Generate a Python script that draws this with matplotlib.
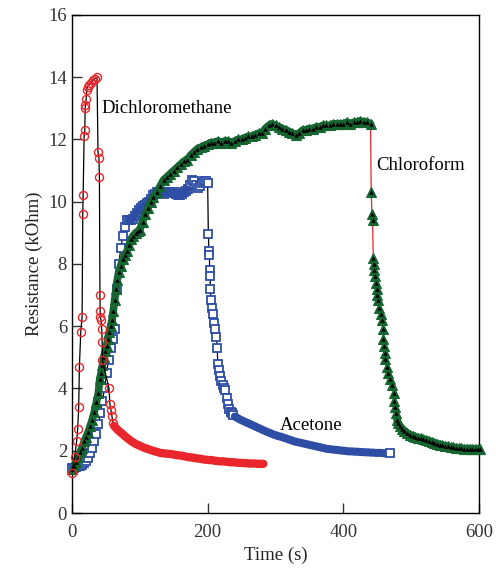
import matplotlib
matplotlib.use("Agg")
import matplotlib.pyplot as plt

# ---- data (time in s, resistance in kOhm) ----
dcm_t = [0, 4, 7, 8.5, 10, 11, 13, 15, 16, 16.5, 18, 19, 19.5, 20, 21, 22, 23, 25, 28, 31, 34, 37,
         38.4, 39.8, 40.5, 41.3, 41.6, 42, 42.8, 44, 44.5, 45, 54.6, 56, 57.5, 59, 60.5,
         62, 66, 70, 74, 78, 82, 86, 90, 94, 98, 102, 106, 110, 114, 118, 122, 126, 130,
         134, 138, 142, 146, 150, 154, 158, 162, 166, 170, 174, 178, 182, 186, 190, 194,
         198, 202, 206, 210, 214, 218, 222, 226, 230, 234, 238, 242, 246, 250, 254, 258,
         262, 266, 270, 274, 278, 282]
dcm_r = [1.3, 1.8, 2.3, 2.7, 3.4, 4.7, 5.8, 6.3, 9.6, 10.2, 12.1, 12.3, 13.0, 13.1, 13.3, 13.6,
         13.7, 13.75, 13.8, 13.9, 13.95, 14.0,
         11.6, 11.4, 10.8, 7.0, 6.5, 6.3, 6.2, 5.9, 5.5, 4.9, 4.0, 3.5, 3.3, 3.1, 2.9,
         2.80, 2.70, 2.62, 2.55, 2.47, 2.40, 2.33, 2.27, 2.22, 2.18, 2.14, 2.10, 2.07, 2.04,
         2.01, 1.98, 1.96, 1.93, 1.92, 1.91, 1.90, 1.89, 1.88, 1.86, 1.85, 1.84, 1.82, 1.80,
         1.79, 1.78, 1.76, 1.75, 1.74, 1.72, 1.71, 1.70, 1.70, 1.68, 1.67, 1.66, 1.66, 1.65,
         1.64, 1.63, 1.63, 1.62, 1.61, 1.61, 1.60, 1.60, 1.59, 1.59, 1.59, 1.58, 1.58, 1.58]

ace_t = [0, 3, 6, 9, 12, 15, 18, 21, 24, 27, 30, 33, 36, 39, 42, 45, 48, 51, 54, 57, 60, 63,
         66, 69, 72, 75, 78, 81, 84, 87, 90, 93, 96, 99, 102, 105, 108, 111, 114, 117, 120,
         123, 126, 129, 132, 135, 138, 141, 144, 147, 150, 153, 156, 159, 162, 165, 168, 171,
         174, 177, 180, 183, 186, 189, 192, 195, 198, 200,
         201, 202, 202.5, 203, 203.5, 204, 205, 206, 208, 209, 211, 213, 214, 215, 216, 218,
         220, 222, 224, 226, 228, 230, 232, 234, 236, 238,
         240, 244, 248, 252, 256, 260, 264, 268, 272, 276, 280, 284, 288, 292, 296, 300, 304,
         308, 312, 316, 320, 324, 328, 332, 336, 340, 344, 348, 352, 356, 360, 364, 368, 372,
         376, 380, 384, 388, 392, 396, 400, 404, 408, 412, 416, 420, 424, 428, 432, 436, 440,
         444, 448, 452, 456, 460, 464, 469]
ace_r = [1.45, 1.45, 1.47, 1.5, 1.52, 1.55, 1.6, 1.68, 1.78, 1.92, 2.08, 2.3, 2.55, 2.85, 3.2,
         3.6, 4.0, 4.5, 4.9, 5.3, 5.6, 5.9, 7.2, 8.0, 8.5, 8.9, 9.2, 9.4, 9.4, 9.42, 9.45, 9.55,
         9.65, 9.72, 9.8, 9.85, 9.9, 9.95, 10.0, 10.1, 10.2, 10.25, 10.3, 10.3, 10.28, 10.25,
         10.3, 10.32, 10.3, 10.28, 10.3, 10.25, 10.2, 10.2, 10.25, 10.3, 10.35, 10.4, 10.55,
         10.7, 10.65, 10.55, 10.45, 10.5, 10.6, 10.65, 10.65, 10.6,
         8.95, 8.4, 8.3, 7.8, 7.6, 7.2, 6.85, 6.6, 6.4, 6.1, 5.9, 5.66, 5.3, 4.8, 4.6, 4.4,
         4.25, 4.1, 4.0, 3.95, 3.7, 3.5, 3.35, 3.25, 3.2, 3.15,
         3.10, 3.05, 3.00, 2.96, 2.92, 2.88, 2.84, 2.80, 2.76, 2.72, 2.68, 2.64, 2.60, 2.57,
         2.53, 2.50, 2.47, 2.45, 2.42, 2.39, 2.36, 2.33, 2.30, 2.28, 2.26, 2.24, 2.22, 2.20,
         2.18, 2.16, 2.14, 2.12, 2.10, 2.08, 2.06, 2.05, 2.04, 2.03, 2.02, 2.01, 2.00, 1.99,
         1.98, 1.98, 1.97, 1.97, 1.96, 1.96, 1.95, 1.95, 1.94, 1.94, 1.93, 1.93, 1.93, 1.92,
         1.92, 1.92]

chl_t = [0, 3, 6, 9, 12, 15, 18, 21, 24, 27, 30, 33, 36, 39, 41, 43, 45, 47, 49, 51, 53, 55,
         57, 59, 61, 63, 65, 67, 69, 72, 75, 78, 81, 84, 87, 90, 94, 97, 100, 104, 108, 112,
         116, 120, 125, 130, 135, 140, 145, 150, 155, 160, 165, 170, 175, 180, 185, 190, 195,
         200, 205, 210, 215, 220, 225, 230, 235, 240, 245, 250, 255, 260, 265, 270, 275, 280,
         285, 290, 295, 300, 305, 310, 315, 320, 325, 330, 335, 340, 345, 350, 355, 360, 365,
         370, 375, 380, 385, 390, 395, 400, 405, 410, 415, 420, 425, 430, 435, 440,
         441, 442, 443, 444, 444.5, 445, 447, 448, 449, 450, 451, 453, 455, 457, 458, 459, 460,
         461, 462, 464, 466, 469, 471, 474, 475, 476, 478, 479, 481, 484, 487, 490, 494, 498,
         502, 506, 510, 514, 518, 522, 526, 530, 534, 538, 542, 546, 550, 554, 558, 562, 566,
         570, 574, 578, 582, 586, 590, 594, 598, 602]
chl_r = [1.4, 1.5, 1.65, 1.8, 1.95, 2.1, 2.3, 2.45, 2.6, 2.8, 3.0, 3.25, 3.55, 3.85, 4.3, 4.5,
         4.75, 5.0, 5.2, 5.35, 5.6, 5.8, 6.0, 6.2, 6.5, 6.85, 7.2, 7.5, 7.75, 7.95, 8.15, 8.3,
         8.4, 8.6, 8.8, 8.9, 9.0, 9.05, 9.1, 9.35, 9.6, 9.8, 10.0, 10.15, 10.3, 10.5, 10.7,
         10.8, 10.9, 11.0, 11.1, 11.2, 11.3, 11.35, 11.5, 11.6, 11.7, 11.75, 11.8, 11.85, 11.9,
         11.9, 11.95, 11.9, 11.95, 11.95, 11.9, 11.95, 12.0, 12.0, 12.05, 12.1, 12.1, 12.15,
         12.2, 12.2, 12.35, 12.45, 12.5, 12.45, 12.4, 12.35, 12.3, 12.25, 12.2, 12.15, 12.2,
         12.3, 12.3, 12.35, 12.35, 12.4, 12.4, 12.45, 12.45, 12.45, 12.5, 12.5, 12.5, 12.5,
         12.55, 12.5, 12.55, 12.55, 12.6, 12.55, 12.55, 12.5,
         10.3, 9.6, 9.4, 8.2, 8.0, 7.8, 7.6, 7.4, 7.2, 7.0, 6.85, 6.6, 6.4, 6.2, 5.9, 5.6,
         5.35, 5.15, 4.95, 4.7, 4.5, 4.3, 4.1, 3.86, 3.6, 3.4, 3.2, 3.0, 2.88, 2.78, 2.7, 2.64,
         2.57, 2.52, 2.48, 2.45, 2.42, 2.4, 2.37, 2.35, 2.32, 2.29, 2.26, 2.23, 2.2, 2.18,
         2.16, 2.14, 2.12, 2.11, 2.1, 2.09, 2.08, 2.07, 2.07, 2.07, 2.06, 2.06, 2.06, 2.06]

x_ticks = [0, 200, 400, 600]
y_ticks = [0, 2, 4, 6, 8, 10, 12, 14, 16]

plt.rcParams['font.family'] = ['Liberation Serif', 'DejaVu Serif']
plt.rcParams['font.size'] = 13.5

fig = plt.figure(figsize=(4.96, 5.73), dpi=100)
ax = fig.add_axes([0.145, 0.1047, 0.821, 0.8693])

red = '#e8262b'
blue = '#2e4ea6'
green = '#176530'

# where the measured points sit so close that they merge into one solid band
d0 = dcm_t.index(62)
a0 = ace_t.index(240)
a1 = ace_t.index(84)
a2 = ace_t.index(171)
c1 = chl_t.index(440)
c2 = chl_t.index(479)

# Acetone
ax.plot(ace_t, ace_r, color='black', lw=0.9, zorder=2)
ax.plot(ace_t[:a0], ace_r[:a0], ls='none', marker='s', ms=5.8, mfc='white', mec=blue,
        mew=1.3, zorder=3, clip_on=False)
ax.plot(ace_t[a1:a2 + 1], ace_r[a1:a2 + 1], color=blue, lw=5.5, solid_capstyle='round',
        zorder=3)
ax.plot(ace_t[a0:-1], ace_r[a0:-1], color=blue, lw=5.8, solid_capstyle='round', zorder=3)
ax.plot(ace_t[-1:], ace_r[-1:], ls='none', marker='s', ms=5.8, mfc='white', mec=blue,
        mew=1.3, zorder=3)

# Chloroform
ax.plot(chl_t, chl_r, color=red, lw=0.9, zorder=4)
ax.plot(chl_t[:c1 + 1], chl_r[:c1 + 1], color=green, lw=5.5, solid_capstyle='round', zorder=4)
ax.plot(chl_t[c2:], chl_r[c2:], color=green, lw=5.5, solid_capstyle='round', zorder=4)
ax.plot(chl_t, chl_r, ls='none', marker='^', ms=6.5, mfc=green, mec=green, mew=0.8,
        zorder=5, clip_on=False)
ax.plot(chl_t, chl_r, ls='none', marker='^', ms=3.2, mfc='black', mec='black', mew=0,
        zorder=5, clip_on=False)

# Dichloromethane
ax.plot(dcm_t, dcm_r, color='black', lw=0.9, zorder=6)
ax.plot(dcm_t[d0:], dcm_r[d0:], color=red, lw=6, solid_capstyle='round', zorder=7)
ax.plot(dcm_t[:d0], dcm_r[:d0], ls='none', marker='o', ms=5.8, mfc='none', mec=red,
        mew=1.0, zorder=7, clip_on=False)

ax.text(43, 13.0, 'Dichloromethane', ha='left', va='center')
ax.text(448, 11.15, 'Chloroform', ha='left', va='center')
ax.text(307, 2.8, 'Acetone', ha='left', va='center')

ax.set_xlim(0, 600)
ax.set_ylim(0, 16)
ax.set_xticks(x_ticks)
ax.set_yticks(y_ticks)
ax.tick_params(direction='in', length=7, width=1, colors='#333333', labelcolor='#333333')
ax.tick_params(axis='x', pad=8)
ax.set_xlabel('Time (s)', color='#222222')
ax.set_ylabel('Resistance (kOhm)', color='#222222')
for s in ax.spines.values():
    s.set_linewidth(1.0)

fig.savefig('out.png', dpi=100)
